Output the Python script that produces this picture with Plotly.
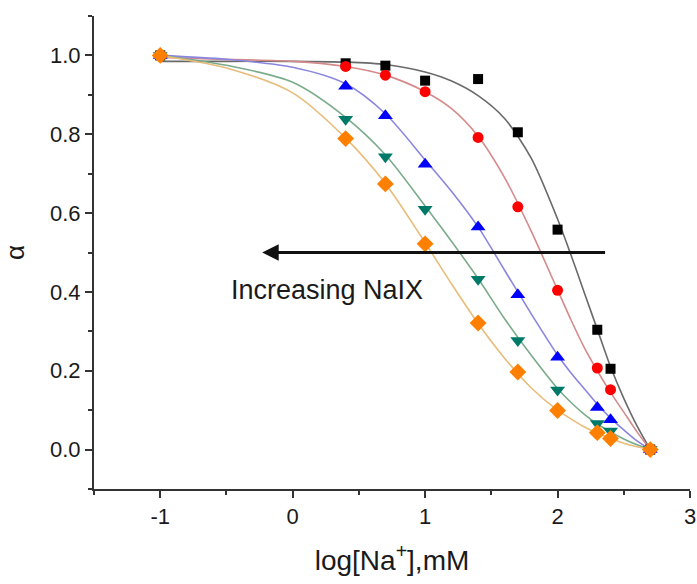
import plotly.graph_objects as go

# ---- data ----
x_data = [-1, 0.4, 0.7, 1.0, 1.4, 1.7, 2.0, 2.3, 2.4, 2.7]
black_sq = [1.0, 0.98, 0.974, 0.936, 0.940, 0.805, 0.558, 0.304, 0.205, 0.0]
red_circ = [1.0, 0.972, 0.950, 0.908, 0.792, 0.616, 0.404, 0.207, 0.152, 0.0]
blue_tri = [1.0, 0.922, 0.847, 0.724, 0.565, 0.393, 0.234, 0.107, 0.076, 0.0]
green_tri = [1.0, 0.838, 0.743, 0.610, 0.432, 0.277, 0.151, 0.066, 0.047, 0.0]
orange_dia = [1.0, 0.789, 0.674, 0.522, 0.321, 0.197, 0.099, 0.043, 0.028, 0.0]

# fitted curves
fit_x = [-1, -0.5, 0, 0.4, 0.7, 1.0, 1.2, 1.4, 1.6, 1.8, 2.0, 2.1, 2.2, 2.3, 2.4, 2.5, 2.6, 2.7]
fit_black = [0.985, 0.985, 0.985, 0.983, 0.977, 0.958, 0.935, 0.898, 0.84, 0.74, 0.585, 0.495, 0.40, 0.305, 0.21, 0.13, 0.06, 0.0]
fit_red = [0.995, 0.99, 0.985, 0.972, 0.95, 0.908, 0.865, 0.795, 0.69, 0.555, 0.405, 0.33, 0.26, 0.20, 0.145, 0.095, 0.045, 0.0]
fit_blue = [1.0, 0.99, 0.97, 0.928, 0.852, 0.735, 0.655, 0.565, 0.455, 0.345, 0.24, 0.195, 0.155, 0.115, 0.08, 0.05, 0.022, 0.0]
fit_green = [1.0, 0.975, 0.932, 0.843, 0.748, 0.618, 0.528, 0.434, 0.332, 0.24, 0.155, 0.12, 0.09, 0.065, 0.045, 0.027, 0.012, 0.0]
fit_orange = [1.0, 0.968, 0.905, 0.79, 0.675, 0.525, 0.42, 0.32, 0.232, 0.157, 0.10, 0.078, 0.058, 0.042, 0.028, 0.016, 0.007, 0.0]

x_tick_vals = [-1, 0, 1, 2, 3]
x_tick_text = ["-1", "0", "1", "2", "3"]
y_tick_vals = [0.0, 0.2, 0.4, 0.6, 0.8, 1.0]
y_tick_text = ["0.0", "0.2", "0.4", "0.6", "0.8", "1.0"]

series = [
    (black_sq, fit_black, "#000000", "#6a6a6a", "square", 10),
    (red_circ, fit_red, "#ff0000", "#d48a8a", "circle", 11),
    (blue_tri, fit_blue, "#0000ff", "#8a86e0", "triangle-up", 13),
    (green_tri, fit_green, "#007a68", "#7aab8a", "triangle-down", 13),
    (orange_dia, fit_orange, "#ff8000", "#e8bc7a", "diamond", 13),
]

fig = go.Figure()
for _, fy, _, lc, _, _ in series:
    fig.add_trace(go.Scatter(x=fit_x, y=fy, mode="lines",
                             line=dict(color=lc, width=1.6, shape="spline", smoothing=0.8),
                             showlegend=False, hoverinfo="skip"))
for ys, _, mc, _, sym, sz in series:
    fig.add_trace(go.Scatter(x=x_data, y=ys, mode="markers",
                             marker=dict(color=mc, symbol=sym, size=sz, line=dict(width=0)),
                             showlegend=False))

font_family = "Liberation Sans, Arial, sans-serif"

fig.add_annotation(x=-0.23, y=0.5, ax=2.37, ay=0.5, xref="x", yref="y",
                   axref="x", ayref="y", text="", showarrow=True,
                   arrowhead=2, arrowsize=1.1, arrowwidth=3, arrowcolor="#111111")
fig.add_annotation(x=0.257, y=0.404, xref="x", yref="y", text="Increasing NaIX",
                   showarrow=False, font=dict(family=font_family, size=27, color="#1a1a1a"))

axis_common = dict(showline=True, linewidth=2, linecolor="#333333", showgrid=False,
                   zeroline=False, ticks="outside", ticklen=7, tickwidth=2, tickcolor="#333333",
                   tickfont=dict(family=font_family, size=22, color="#1a1a1a"), mirror=False,
                   automargin=False)

fig.update_layout(
    width=697, height=584,
    margin=dict(l=94, r=7, t=16, b=95),
    plot_bgcolor="white", paper_bgcolor="white",
    xaxis=dict(range=[-1.5, 3], tickvals=x_tick_vals, ticktext=x_tick_text,
               minor=dict(dtick=0.5, tick0=0, ticks="outside", ticklen=4, tickwidth=2, tickcolor="#333333"),
               title=dict(text="log[Na<sup>+</sup>],mM", font=dict(family=font_family, size=28, color="#1a1a1a"),
                          standoff=22),
               **axis_common),
    yaxis=dict(range=[-0.1, 1.1], tickvals=y_tick_vals, ticktext=y_tick_text,
               minor=dict(dtick=0.1, tick0=0, ticks="outside", ticklen=4, tickwidth=2, tickcolor="#333333"),
               title=dict(text="α", font=dict(family=font_family, size=26, color="#1a1a1a"), standoff=22),
               **axis_common),
)

fig.write_html("out.html", config={"displayModeBar": False},
               post_script="document.body.style.margin='0';document.body.style.overflow='hidden';")
